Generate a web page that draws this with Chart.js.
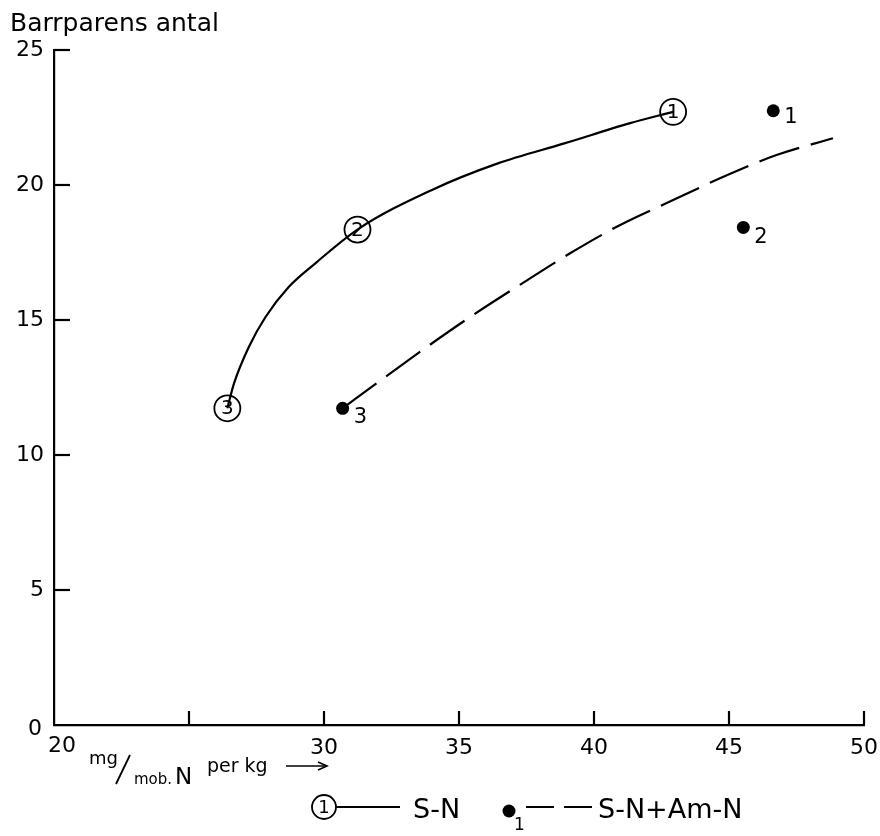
<!DOCTYPE html>
<html>
<head>
<meta charset="utf-8">
<script src="https://cdn.jsdelivr.net/npm/chart.js@4"></script>
<style>
html,body{margin:0;padding:0;background:#fff;}
#wrap{width:880px;height:836px;position:relative;}
</style>
</head>
<body>
<div id="wrap"><canvas id="c" width="880" height="836"></canvas></div>
<script>
// ---- data ----
const xTicks = [20, 25, 30, 35, 40, 45, 50];
const xTickLabels = ['20', '', '30', '35', '40', '45', '50'];
const yTicks = [0, 5, 10, 15, 20, 25];
const yTickLabels = ['0', '5', '10', '15', '20', '25'];

// S-N (circled markers)
const snX = [26.42, 31.24, 42.93];
const snY = [11.73, 18.35, 22.71];
const snLabels = ['3', '2', '1'];
// S-N curve
const snCurveX = [26.42, 26.67, 27.22, 27.84, 28.70, 29.68, 31.24, 33.98, 36.44, 38.90, 41.34, 42.93];
const snCurveY = [11.73, 12.66, 14.01, 15.12, 16.23, 17.10, 18.35, 19.81, 20.80, 21.54, 22.29, 22.71];

// S-N + Am-N (filled dots)
const amX = [30.69, 45.53, 46.64];
const amY = [11.73, 18.43, 22.75];
const amLabels = ['3', '2', '1'];
// dashed curve
const amCurveX = [30.69, 32.02, 33.75, 35.41, 37.25, 39.13, 40.97, 42.93, 44.94, 46.76, 48.85];
const amCurveY = [11.73, 12.71, 13.96, 15.11, 16.30, 17.48, 18.52, 19.44, 20.37, 21.11, 21.73];

const yTitle = 'Barrparens antal';
const legendSN = 'S-N';
const legendAM = 'S-N+Am-N';

const FONT = '"DejaVu Sans", "Liberation Sans", sans-serif';
const toPts = (xs, ys) => xs.map((x, i) => ({x: x, y: ys[i]}));

const decor = {
  id: 'decor',
  afterDatasetsDraw(chart) {
    const ctx = chart.ctx;
    const xs = chart.scales.x, ys = chart.scales.y;
    const area = chart.chartArea;
    ctx.save();
    ctx.strokeStyle = '#000';
    ctx.fillStyle = '#000';
    ctx.lineWidth = 2.2;
    // inward tick marks
    xTicks.forEach(v => {
      if (v === xs.min) return;
      const px = xs.getPixelForValue(v);
      ctx.beginPath(); ctx.moveTo(px, area.bottom); ctx.lineTo(px, area.bottom - 14); ctx.stroke();
    });
    yTicks.forEach(v => {
      if (v === ys.min) return;
      const py = ys.getPixelForValue(v);
      ctx.beginPath(); ctx.moveTo(area.left, py); ctx.lineTo(area.left + 16, py); ctx.stroke();
    });
    // corner labels (0 on y, 20 on x) drawn slightly offset as in the original
    ctx.font = '22px ' + FONT;
    ctx.textBaseline = 'middle';
    ctx.textAlign = 'right';
    ctx.fillText(yTickLabels[0], 42, ys.getPixelForValue(yTicks[0]) + 4);
    ctx.textAlign = 'center';
    ctx.fillText(xTickLabels[0], xs.getPixelForValue(xTicks[0]) + 8, 746);

    // numbers in circles
    const m1 = chart.getDatasetMeta(2);
    ctx.font = '20px ' + FONT;
    ctx.textAlign = 'center';
    ctx.textBaseline = 'middle';
    m1.data.forEach((pt, i) => { ctx.fillText(snLabels[i], pt.x, pt.y + 1); });
    // labels beside dots
    const m2 = chart.getDatasetMeta(3);
    ctx.font = '21px ' + FONT;
    ctx.textAlign = 'left';
    ctx.textBaseline = 'alphabetic';
    const offY = [15, 16, 12];
    m2.data.forEach((pt, i) => { ctx.fillText(amLabels[i], pt.x + 11, pt.y + offY[i]); });

    // y axis title
    ctx.font = '25px ' + FONT;
    ctx.textAlign = 'left';
    ctx.textBaseline = 'alphabetic';
    ctx.fillText(yTitle, 10, 31);

    // x axis title: mg/mob. N per kg ->
    ctx.font = '18px ' + FONT;
    ctx.fillText('mg', 89, 764);
    ctx.lineWidth = 1.8;
    ctx.beginPath(); ctx.moveTo(130, 755); ctx.lineTo(116, 784); ctx.stroke();
    ctx.font = '15px ' + FONT;
    ctx.fillText('mob.', 134, 784);
    ctx.font = '23px ' + FONT;
    ctx.fillText('N', 175, 784);
    ctx.font = '19px ' + FONT;
    ctx.fillText('per kg', 207, 772);
    ctx.lineWidth = 1.6;
    ctx.beginPath(); ctx.moveTo(286, 766); ctx.lineTo(326, 766); ctx.stroke();
    ctx.beginPath(); ctx.moveTo(318, 762); ctx.lineTo(327, 766); ctx.lineTo(318, 770); ctx.stroke();

    // legend
    ctx.lineWidth = 1.8;
    ctx.fillStyle = '#fff';
    ctx.beginPath(); ctx.arc(324, 807, 12, 0, Math.PI * 2); ctx.fill(); ctx.stroke();
    ctx.fillStyle = '#000';
    ctx.font = '18px ' + FONT;
    ctx.textAlign = 'center'; ctx.textBaseline = 'middle';
    ctx.fillText('1', 324, 808);
    ctx.lineWidth = 2.2;
    ctx.beginPath(); ctx.moveTo(336, 807); ctx.lineTo(400, 807); ctx.stroke();
    ctx.font = '27px ' + FONT;
    ctx.textAlign = 'left'; ctx.textBaseline = 'alphabetic';
    ctx.fillText(legendSN, 413, 818);

    ctx.beginPath(); ctx.arc(509, 811, 6.5, 0, Math.PI * 2); ctx.fill();
    ctx.font = '17px ' + FONT;
    ctx.fillText('1', 514, 830);
    ctx.setLineDash([28, 10]);
    ctx.beginPath(); ctx.moveTo(526, 807); ctx.lineTo(592, 807); ctx.stroke();
    ctx.setLineDash([]);
    ctx.font = '27px ' + FONT;
    ctx.fillText(legendAM, 598, 818);
    ctx.restore();
  }
};

new Chart(document.getElementById('c'), {
  type: 'scatter',
  data: {
    datasets: [
      { label: 'S-N curve', data: toPts(snCurveX, snCurveY), showLine: true, borderColor: '#000', borderWidth: 2.2,
        pointRadius: 0, cubicInterpolationMode: 'monotone', fill: false },
      { label: 'S-N+Am-N curve', data: toPts(amCurveX, amCurveY), showLine: true, borderColor: '#000', borderWidth: 2.2,
        borderDash: [42, 12], pointRadius: 0, cubicInterpolationMode: 'monotone', fill: false },
      { label: 'S-N', data: toPts(snX, snY), showLine: false, pointRadius: 13, pointBackgroundColor: '#fff',
        pointBorderColor: '#000', pointBorderWidth: 1.8 },
      { label: 'S-N+Am-N', data: toPts(amX, amY), showLine: false, pointRadius: 6.5, pointBackgroundColor: '#000',
        pointBorderColor: '#000', pointBorderWidth: 0 }
    ]
  },
  options: {
    responsive: false,
    animation: false,
    layout: { padding: { top: 50, right: 12, left: 0, bottom: 0 } },
    plugins: { legend: { display: false }, tooltip: { enabled: false }, title: { display: false } },
    scales: {
      x: {
        type: 'linear', min: 20, max: 50,
        afterBuildTicks: s => { s.ticks = xTicks.map(v => ({ value: v })); },
        afterFit: s => { s.height = 111; },
        grid: { display: false },
        border: { display: true, color: '#000', width: 2.2 },
        ticks: { color: '#000', font: { family: FONT, size: 22 }, padding: 2, maxRotation: 0,
          callback: (v, i) => (i === 0 ? '' : xTickLabels[xTicks.indexOf(v)]) }
      },
      y: {
        type: 'linear', min: 0, max: 25,
        afterBuildTicks: s => { s.ticks = yTicks.map(v => ({ value: v })); },
        afterFit: s => { s.width = 54; },
        grid: { display: false },
        border: { display: true, color: '#000', width: 2.2 },
        ticks: { color: '#000', font: { family: FONT, size: 22 }, padding: 2,
          callback: (v, i) => (i === 0 ? '' : yTickLabels[yTicks.indexOf(v)]) }
      }
    }
  },
  plugins: [decor]
});
</script>
</body>
</html>
